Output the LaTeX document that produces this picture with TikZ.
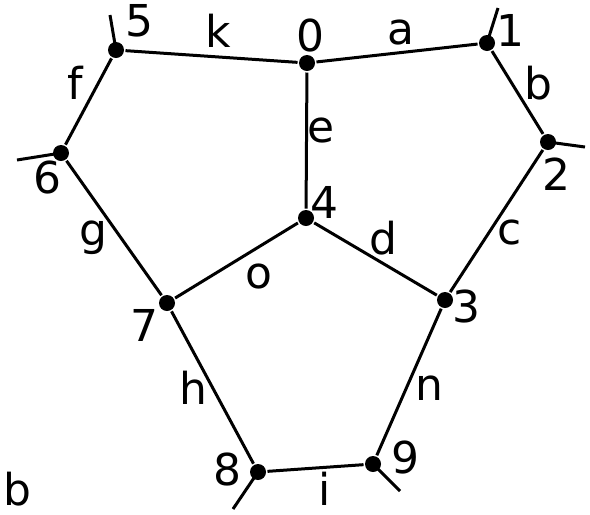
\documentclass[tikz,border=0pt]{standalone}
\usepackage{fontspec}
\setmainfont{DejaVu Sans}
\usetikzlibrary{positioning, calc}

\begin{document}
\begin{tikzpicture}[x=0.2mm, y=-0.2mm, line width=0.6mm,
    dot/.style={circle, fill, inner sep=0pt, minimum size=3.2mm},
    lbl/.style={inner sep=0pt, font=\fontsize{25}{30}\selectfont}]
    \useasboundingbox (0,0) rectangle (590,514);
    % vertices
    \node[dot] (v0) at (307,63) {};
    \node[dot] (v1) at (487,43) {};
    \node[dot] (v2) at (548,142) {};
    \node[dot] (v3) at (445,300) {};
    \node[dot] (v4) at (306,218) {};
    \node[dot] (v5) at (116,50) {};
    \node[dot] (v6) at (61,153) {};
    \node[dot] (v7) at (167,303) {};
    \node[dot] (v8) at (258,472) {};
    \node[dot] (v9) at (373,464) {};
    % loose ends
    \coordinate (s5) at (110,15);
    \coordinate (s1) at (498,8);
    \coordinate (s2) at (585,147);
    \coordinate (s6) at (17,160);
    \coordinate (s8) at (233,509);
    \coordinate (s9) at (400,491);
    % edges
    \draw (v5) -- (v0) -- (v1) -- (v2) -- (v3) -- (v4) -- (v7) -- (v6) -- (v5);
    \draw (v0) -- (v4);
    \draw (v7) -- (v8) -- (v9) -- (v3);
    \foreach \v in {5,1,2,6,8,9}
        \draw (v\v.center) -- (s\v);
    % vertex numbers
    \node[lbl] (n0) at (310,36) {0};
    \node[lbl] (n1) at (510,30) {1};
    \node[lbl] (n2) at (556,174) {2};
    \node[lbl] (n3) at (466,306) {3};
    \node[lbl] (n4) at (324,202) {4};
    \node[lbl] (n5) at (139,21) {5};
    \node[lbl] (n6) at (47,177) {6};
    \node[lbl] (n7) at (144,325) {7};
    \node[lbl] (n8) at (227,469) {8};
    \node[lbl] (n9) at (405,457) {9};
    % edge letters
    \node[lbl] (ea) at (401,33) {a};
    \node[lbl] (eb) at (538,83) {b};
    \node[lbl] (ec) at (510,232) {c};
    \node[lbl] (ed) at (383,238) {d};
    \node[lbl] (ee) at (321,130) {e};
    \node[lbl] (ef) at (75,83) {f};
    \node[lbl] (eg) at (93,238) {g};
    \node[lbl] (eh) at (193,388) {h};
    \node[lbl] (ei) at (325,489) {i};
    \node[lbl] (ek) at (218,31) {k};
    \node[lbl] (en) at (429,388) {n};
    \node[lbl] (eo) at (259,276) {o};
    % panel tag
    \node[lbl] (tag) at (17,489) {b};
\end{tikzpicture}
\end{document}
